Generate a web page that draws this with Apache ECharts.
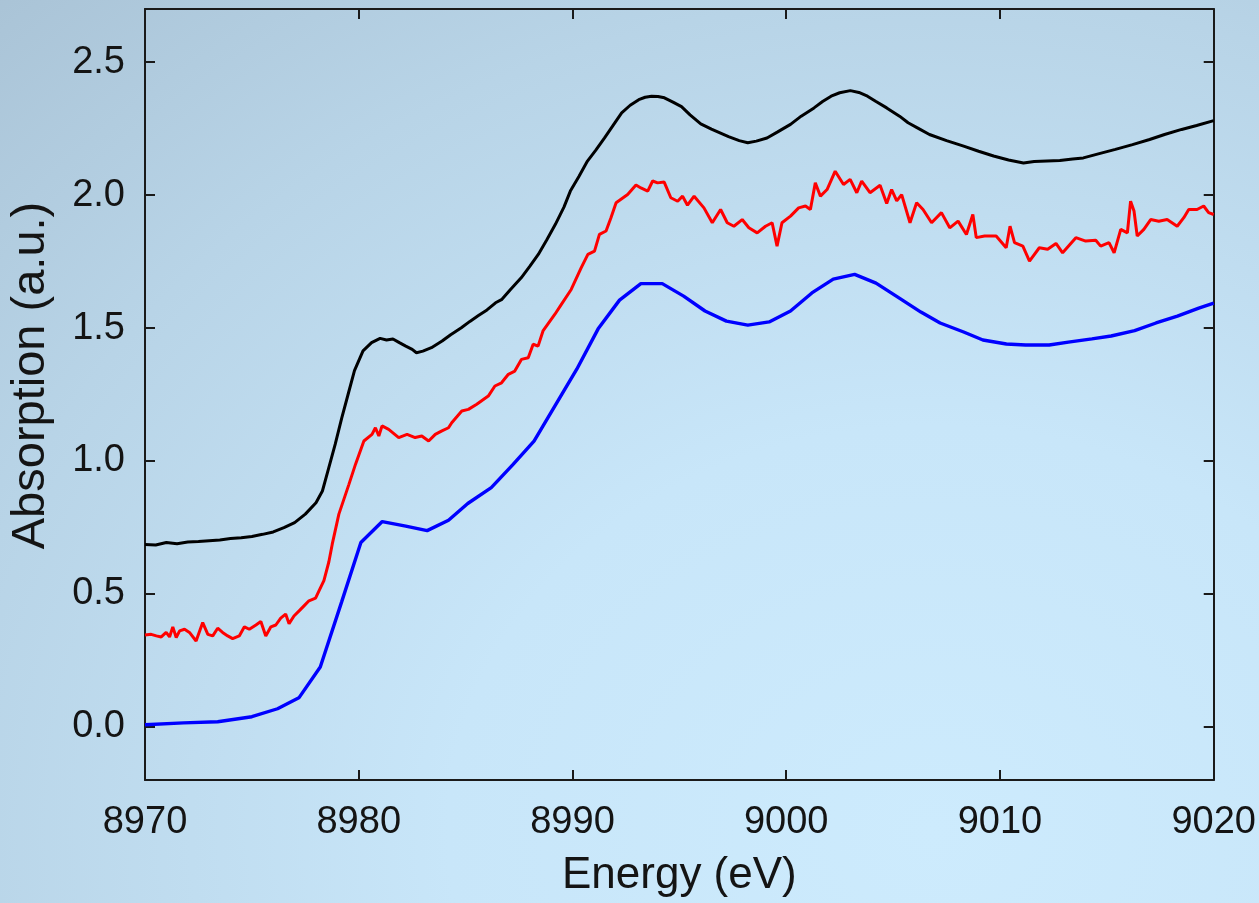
<!DOCTYPE html>
<html>
<head>
<meta charset="utf-8">
<script src="https://cdn.jsdelivr.net/npm/echarts@6/dist/echarts.min.js"></script>
<style>
  html, body { margin: 0; padding: 0; }
  #chart {
    width: 1259px; height: 903px;
    background: radial-gradient(ellipse 120% 140% at 74% 92%, #cdebfd 0%, #c8e6f9 32%, #b8d4e7 66%, #a4bdd0 100%);
  }
</style>
</head>
<body>
<div id="chart"></div>
<script>
// XANES spectra: energy (eV) vs absorption (a.u.), three samples offset vertically

const xTicks = [8970, 8980, 8990, 9000, 9010, 9020];
const yTicks = [0.0, 0.5, 1.0, 1.5, 2.0, 2.5];

// Top trace (black)
const blackE = [8970.0, 8970.5, 8971.0, 8971.5, 8972.0, 8972.5, 8973.0, 8973.5, 8974.0, 8974.5,
  8975.0, 8975.5, 8976.0, 8976.5, 8977.0, 8977.5, 8978.0, 8978.3, 8978.6, 8978.9,
  8979.2, 8979.5, 8979.8, 8980.2, 8980.6, 8981.0, 8981.3, 8981.6, 8981.9, 8982.2,
  8982.5, 8982.7, 8983.0, 8983.4, 8983.9, 8984.3, 8984.8, 8985.2, 8985.6, 8986.0,
  8986.4, 8986.7, 8987.1, 8987.6, 8988.0, 8988.4, 8988.8, 8989.2, 8989.6, 8989.9,
  8990.3, 8990.7, 8991.1, 8991.5, 8991.9, 8992.3, 8992.7, 8993.1, 8993.4, 8993.7,
  8994.0, 8994.3, 8994.7, 8995.1, 8995.5, 8996.0, 8996.5, 8996.9, 8997.3, 8997.8,
  8998.2, 8998.6, 8999.1, 8999.6, 9000.2, 9000.7, 9001.3, 9001.7, 9002.1, 9002.5,
  9003.0, 9003.4, 9003.8, 9004.2, 9004.7, 9005.3, 9005.7, 9006.2, 9006.7, 9007.5,
  9008.3, 9009.0, 9009.7, 9010.4, 9011.1, 9011.6, 9012.2, 9012.8, 9013.4, 9013.9,
  9014.6, 9015.4, 9016.2, 9017.0, 9017.7, 9018.5, 9019.2, 9020.0];
const blackA = [0.686, 0.684, 0.693, 0.689, 0.695, 0.697, 0.700, 0.703, 0.708, 0.711,
  0.716, 0.724, 0.733, 0.749, 0.768, 0.800, 0.843, 0.887, 0.975, 1.063,
  1.160, 1.250, 1.340, 1.414, 1.445, 1.461, 1.455, 1.459, 1.445, 1.432,
  1.420, 1.407, 1.413, 1.426, 1.451, 1.475, 1.501, 1.525, 1.547, 1.568,
  1.595, 1.608, 1.645, 1.689, 1.732, 1.777, 1.832, 1.890, 1.955, 2.015,
  2.070, 2.128, 2.170, 2.215, 2.262, 2.309, 2.338, 2.359, 2.368, 2.372,
  2.371, 2.366, 2.350, 2.333, 2.302, 2.268, 2.248, 2.234, 2.220, 2.205,
  2.197, 2.203, 2.215, 2.238, 2.266, 2.297, 2.328, 2.352, 2.372, 2.385,
  2.393, 2.386, 2.372, 2.352, 2.328, 2.297, 2.272, 2.250, 2.228, 2.205,
  2.184, 2.165, 2.147, 2.132, 2.121, 2.126, 2.128, 2.130, 2.136, 2.140,
  2.155, 2.172, 2.190, 2.209, 2.228, 2.247, 2.262, 2.280];

// Middle trace (red)
const redE = [8970.0, 8970.06, 8970.29, 8970.53, 8970.76, 8970.99, 8971.15, 8971.3, 8971.46, 8971.62,
  8971.85, 8972.08, 8972.39, 8972.7, 8972.94, 8973.17, 8973.4, 8973.63, 8973.87, 8974.1,
  8974.41, 8974.65, 8974.88, 8975.19, 8975.42, 8975.65, 8975.89, 8976.12, 8976.35, 8976.58,
  8976.74, 8976.97, 8977.21, 8977.44, 8977.67, 8977.98, 8978.14, 8978.37, 8978.6, 8978.76,
  8979.07, 8979.54, 8979.85, 8980.24, 8980.62, 8980.78, 8980.94, 8981.09, 8981.4, 8981.87,
  8982.26, 8982.64, 8982.95, 8983.27, 8983.58, 8983.89, 8984.2, 8984.35, 8984.82, 8985.13,
  8985.52, 8986.06, 8986.37, 8986.68, 8987.0, 8987.3, 8987.61, 8987.93, 8988.16, 8988.39,
  8988.62, 8989.17, 8989.48, 8989.94, 8990.41, 8990.72, 8991.03, 8991.26, 8991.57, 8991.8,
  8992.04, 8992.58, 8992.97, 8993.2, 8993.52, 8993.75, 8993.98, 8994.29, 8994.6, 8994.92,
  8995.15, 8995.38, 8995.69, 8996.15, 8996.54, 8996.93, 8997.24, 8997.55, 8997.94, 8998.25,
  8998.64, 8999.03, 8999.34, 8999.57, 8999.8, 9000.2, 9000.58, 9000.9, 9001.13, 9001.36,
  9001.6, 9001.91, 9002.29, 9002.68, 9002.99, 9003.3, 9003.53, 9003.92, 9004.39, 9004.7,
  9004.93, 9005.17, 9005.4, 9005.79, 9006.1, 9006.4, 9006.8, 9007.26, 9007.65, 9008.04,
  9008.43, 9008.73, 9008.89, 9009.28, 9009.82, 9010.29, 9010.47, 9010.68, 9011.07, 9011.38,
  9011.84, 9012.23, 9012.62, 9012.93, 9013.55, 9014.01, 9014.48, 9014.71, 9015.1, 9015.34,
  9015.65, 9015.96, 9016.11, 9016.27, 9016.42, 9016.73, 9017.05, 9017.43, 9017.82, 9018.29,
  9018.6, 9018.83, 9019.22, 9019.53, 9019.76, 9020.0];
const redA = [0.345, 0.342, 0.348, 0.342, 0.338, 0.355, 0.338, 0.376, 0.336, 0.361,
  0.367, 0.355, 0.323, 0.392, 0.348, 0.342, 0.371, 0.355, 0.342, 0.332,
  0.342, 0.376, 0.367, 0.383, 0.396, 0.342, 0.376, 0.383, 0.409, 0.424,
  0.388, 0.417, 0.436, 0.455, 0.474, 0.484, 0.511, 0.550, 0.620, 0.687,
  0.800, 0.912, 0.988, 1.075, 1.100, 1.125, 1.094, 1.132, 1.119, 1.088,
  1.100, 1.088, 1.094, 1.075, 1.100, 1.113, 1.125, 1.144, 1.188, 1.194,
  1.213, 1.244, 1.282, 1.294, 1.326, 1.338, 1.382, 1.388, 1.439, 1.432,
  1.489, 1.551, 1.589, 1.645, 1.727, 1.777, 1.789, 1.852, 1.865, 1.915,
  1.971, 2.002, 2.038, 2.027, 2.015, 2.053, 2.046, 2.049, 1.990, 1.977,
  1.996, 1.962, 1.996, 1.952, 1.896, 1.946, 1.896, 1.883, 1.908, 1.877,
  1.858, 1.883, 1.896, 1.808, 1.896, 1.921, 1.952, 1.959, 1.946, 2.046,
  1.996, 2.021, 2.090, 2.040, 2.059, 2.009, 2.053, 2.009, 2.037, 1.968,
  2.021, 1.978, 2.002, 1.896, 1.971, 1.946, 1.896, 1.934, 1.877, 1.902,
  1.852, 1.927, 1.840, 1.846, 1.846, 1.802, 1.883, 1.821, 1.808, 1.752,
  1.802, 1.796, 1.818, 1.783, 1.840, 1.827, 1.830, 1.808, 1.821, 1.783,
  1.871, 1.858, 1.977, 1.940, 1.846, 1.871, 1.908, 1.902, 1.908, 1.883,
  1.915, 1.946, 1.946, 1.959, 1.934, 1.927];

// Bottom trace (blue)
const blueE = [8970.0, 8971.8, 8973.4, 8975.0, 8976.2, 8977.2, 8978.2, 8979.2, 8980.1, 8981.1,
  8982.2, 8983.2, 8984.2, 8985.1, 8986.2, 8987.2, 8988.2, 8989.2, 8990.2, 8991.2,
  8992.2, 8993.2, 8994.2, 8995.2, 8996.2, 8997.2, 8998.2, 8999.2, 9000.2, 9001.2,
  9002.2, 9003.2, 9004.2, 9005.2, 9006.3, 9007.2, 9008.3, 9009.2, 9010.3, 9011.2,
  9012.3, 9013.2, 9014.3, 9015.2, 9016.3, 9017.3, 9018.3, 9019.3, 9020.0];
const blueA = [0.008, 0.015, 0.019, 0.038, 0.068, 0.109, 0.225, 0.470, 0.693, 0.772,
  0.755, 0.738, 0.777, 0.840, 0.900, 0.985, 1.075, 1.210, 1.345, 1.497,
  1.605, 1.667, 1.667, 1.620, 1.564, 1.526, 1.511, 1.523, 1.564, 1.632,
  1.684, 1.702, 1.669, 1.617, 1.560, 1.519, 1.485, 1.455, 1.440, 1.436,
  1.436, 1.447, 1.459, 1.470, 1.490, 1.519, 1.545, 1.575, 1.594];

const zip = (xs, ys) => xs.map((x, i) => [x, ys[i]]);

const FONT = "'Liberation Sans', Arial, sans-serif";
const INK = '#141414';

const frameAxis = {
  axisLine: { show: true, onZero: false, lineStyle: { color: '#1a1a1a', width: 2 } },
  axisTick: { show: true, inside: true, length: 10, lineStyle: { color: '#1a1a1a', width: 2 } },
  splitLine: { show: false }
};

const chart = echarts.init(document.getElementById('chart'), null, { renderer: 'canvas' });

chart.setOption({
  backgroundColor: 'transparent',
  animation: false,
  grid: { left: 143, right: 44, top: 9, bottom: 123, containLabel: false },
  xAxis: [
    Object.assign({}, frameAxis, {
      type: 'value', position: 'bottom', min: xTicks[0], max: xTicks[xTicks.length - 1], interval: 10,
      axisLabel: { show: true, fontSize: 38, color: INK, fontFamily: FONT, margin: 24,
        formatter: v => String(v) },
      name: 'Energy (eV)', nameLocation: 'middle', nameGap: 74,
      nameTextStyle: { fontSize: 44, color: INK, fontFamily: FONT }
    }),
    Object.assign({}, frameAxis, {
      type: 'value', position: 'top', min: xTicks[0], max: xTicks[xTicks.length - 1], interval: 10,
      axisLabel: { show: false }
    })
  ],
  yAxis: [
    Object.assign({}, frameAxis, {
      type: 'value', position: 'left', min: -0.2, max: 2.7,
      axisTick: Object.assign({}, frameAxis.axisTick, { customValues: yTicks }),
      axisLabel: { show: true, customValues: yTicks, fontSize: 38, color: INK, fontFamily: FONT, margin: 20,
        formatter: v => v.toFixed(1) },
      name: 'Absorption (a.u.)', nameLocation: 'middle', nameGap: 90, nameRotate: 90,
      nameTextStyle: { fontSize: 47, color: INK, fontFamily: FONT, padding: [0, 0, 0, 38] }
    }),
    Object.assign({}, frameAxis, {
      type: 'value', position: 'right', min: -0.2, max: 2.7,
      axisTick: Object.assign({}, frameAxis.axisTick, { customValues: yTicks }),
      axisLabel: { show: false }
    })
  ],
  series: [
    { name: 'black', type: 'line', data: zip(blackE, blackA), showSymbol: false, smooth: false,
      lineStyle: { color: '#000000', width: 3 }, z: 3 },
    { name: 'red', type: 'line', data: zip(redE, redA), showSymbol: false, smooth: false,
      lineStyle: { color: '#ff0000', width: 3 }, z: 3 },
    { name: 'blue', type: 'line', data: zip(blueE, blueA), showSymbol: false, smooth: false,
      lineStyle: { color: '#0000ff', width: 3.4 }, z: 3 }
  ]
});
</script>
</body>
</html>
